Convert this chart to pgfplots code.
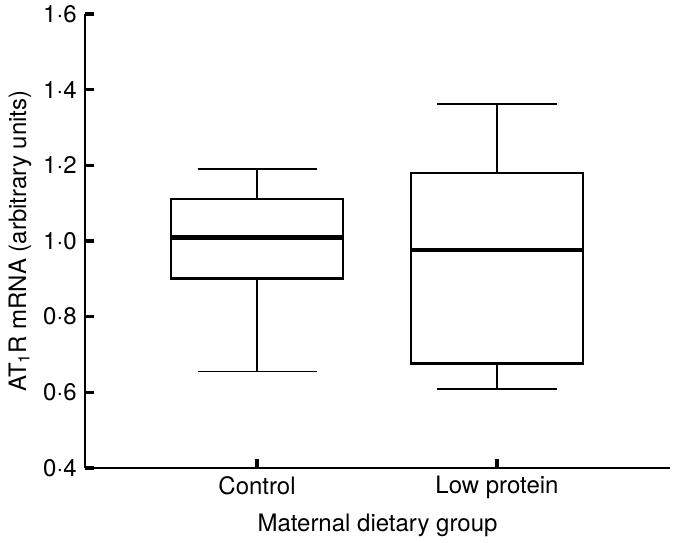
\documentclass[border=0pt]{standalone}
\usepackage{fontspec}
\setmainfont{TeX Gyre Heros}
\usepackage{pgfplots}
\pgfplotsset{compat=1.18}
\usepgfplotslibrary{statistics}
\usetikzlibrary{calc}
\begin{document}
\fontsize{12}{14}\selectfont
\begin{tikzpicture}
\begin{axis}[
  name=ax,
  scale only axis,
  width=292.5pt, height=227pt,
  xmin=0.283, xmax=2.721,
  ymin=0.4, ymax=1.6,
  axis lines=left,
  axis line style={-, line width=1.1pt},
  xtick={1,2}, xticklabels={Control, Low protein},
  ytick={0.4,0.6,0.8,1.0,1.2,1.4,1.6},
  yticklabels={0·4,0·6,0·8,1·0,1·2,1·4,1·6},
  tick align=inside,
  xtick style={line width=1.8pt, black},
  ytick style={line width=1.8pt, black},
  major tick length=4.5pt,
  tick label style={font=\fontsize{12}{14}\selectfont},
  label style={font=\fontsize{12}{14}\selectfont},
  xlabel={Maternal dietary group},
  ylabel={AT\textsubscript{1}R mRNA (arbitrary units)},
  xlabel style={at={(axis description cs:0.5,-0.1256)}, anchor=center},
  ylabel style={at={(axis description cs:-0.1111,0.5)}, anchor=center},
  boxplot/draw direction=y,
  clip=false,
]
\addplot+[black, line width=1.1pt, solid, mark=none,
  boxplot prepared={draw position=1, lower whisker=0.655, lower quartile=0.901,
    median=1.009, upper quartile=1.111, upper whisker=1.191,
    box extend=0.717, whisker extend=0.496},
  boxplot/every median/.style={line width=2.2pt},
  boxplot/every whisker/.style={line width=0.9pt},
] coordinates {};
\addplot+[black, line width=1.1pt, solid, mark=none,
  boxplot prepared={draw position=2, lower whisker=0.609, lower quartile=0.676,
    median=0.976, upper quartile=1.179, upper whisker=1.363,
    box extend=0.717, whisker extend=0.496},
  boxplot/every median/.style={line width=2.2pt},
  boxplot/every whisker/.style={line width=0.9pt},
] coordinates {};
\end{axis}
\pgfresetboundingbox
\path ($(ax.south west)+(-42.5pt,-37pt)$) rectangle ($(ax.north east)+(2.5pt,7pt)$);
\end{tikzpicture}
\end{document}
